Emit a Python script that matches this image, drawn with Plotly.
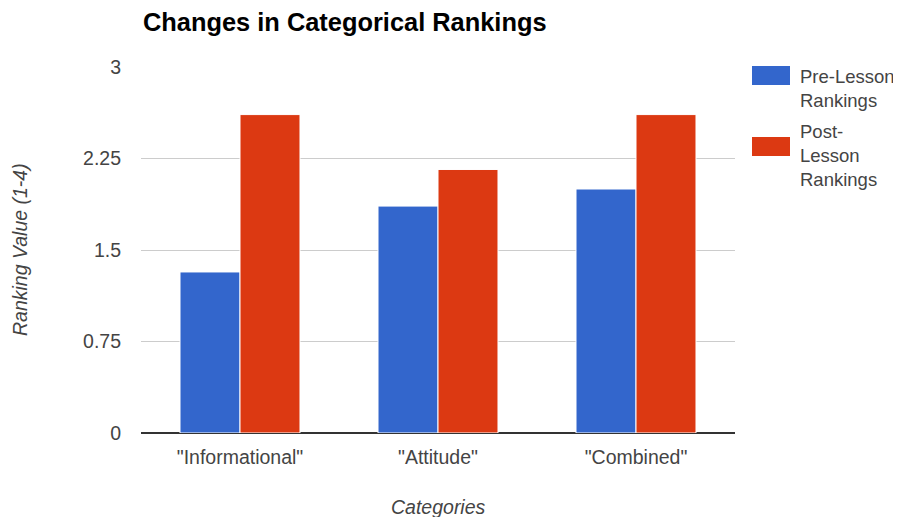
import plotly.graph_objects as go

categories = ['"Informational"', '"Attitude"', '"Combined"']
pre_lesson = [1.32, 1.86, 2.0]
post_lesson = [2.61, 2.16, 2.61]
series_names = ["Pre-Lesson<br>Rankings", "Post-<br>Lesson<br>Rankings"]
colors = ["#3366cc", "#dc3912"]
y_ticks = [0, 0.75, 1.5, 2.25, 3]
y_tick_labels = ["0", "0.75", "1.5", "2.25", "3"]
x_title = "Categories"
y_title = "Ranking Value (1-4)"

FONT = "Liberation Sans, Arial, sans-serif"
FS = 19.5
W, H = 893, 509
L, R, T, B = 133, 166, 59, 84
PW, PH = W - L - R, H - T - B


def px(x):
    return (x - L) / PW


def py(y):
    return 1 - (y - T) / PH


fig = go.Figure()
for vals, name, col in zip([pre_lesson, post_lesson], series_names, colors):
    fig.add_trace(go.Bar(x=categories, y=vals, name=name,
                         marker=dict(color=col, line=dict(color="white", width=1)),
                         showlegend=False))

fig.update_layout(
    width=W, height=H,
    margin=dict(l=L, r=R, t=T, b=B, autoexpand=False),
    paper_bgcolor="white", plot_bgcolor="white",
    barmode="group", bargap=0.394, bargroupgap=0,
    font=dict(family=FONT, size=FS, color="#444444"),
    title=dict(text="<b>Changes in Categorical Rankings</b>", x=135 / W, xanchor="left",
               y=1 - 14 / H, yanchor="middle", font=dict(size=25.4, color="#000000", family=FONT)),
    xaxis=dict(showgrid=False, showline=False, ticks="", ticklabelstandoff=10, automargin=False,
               tickfont=dict(size=FS, color="#444444")),
    yaxis=dict(range=[0, 3], tickvals=y_ticks, ticktext=y_tick_labels, showgrid=True, automargin=False,
               gridcolor="#cccccc", gridwidth=1, zeroline=True, zerolinecolor="#333333", zerolinewidth=1.5,
               showline=False, ticks="", ticklabelstandoff=19, tickfont=dict(size=FS, color="#444444")),
)

# axis titles
fig.add_annotation(xref="paper", yref="paper", x=0.5, y=py(499), xanchor="center", yanchor="middle",
                   showarrow=False, text="<i>" + x_title + "</i>",
                   font=dict(size=FS, color="#444444", family=FONT))
fig.add_annotation(xref="paper", yref="paper", x=px(12), y=0.5, xanchor="center", yanchor="middle",
                   showarrow=False, textangle=-90, text="<i>" + y_title + "</i>",
                   font=dict(size=FS, color="#444444", family=FONT))

# custom legend
swatch_tops = [58, 129]
text_tops = [56, 111]
for name, col, st, tt in zip(series_names, colors, swatch_tops, text_tops):
    fig.add_shape(type="rect", xref="paper", yref="paper",
                  x0=px(744), x1=px(782), y0=py(st + 19), y1=py(st),
                  fillcolor=col, line=dict(color=col, width=0))
    fig.add_annotation(xref="paper", yref="paper", x=px(790), y=py(tt),
                       xanchor="left", yanchor="top", align="left", showarrow=False,
                       text=name, font=dict(size=18.5, color="#444444", family=FONT))

fig.write_html("out.html")
